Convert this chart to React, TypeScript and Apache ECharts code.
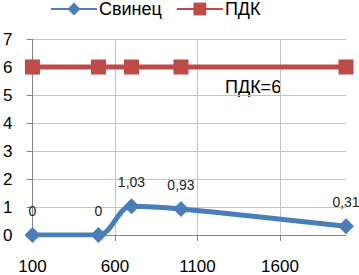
import React, { useEffect, useRef } from "react";
import * as echarts from "echarts";

const xValues = [100, 500, 700, 1000, 2000];
const leadValues = [0, 0, 1.03, 0.93, 0.31];
const pdkValues = [6, 6, 6, 6, 6];
const xTickValues = [100, 600, 1100, 1600];
const seriesNames = ["Свинец", "ПДК"];
const annotation = "ПДК=6";

const FONT = "'Liberation Sans', Arial, sans-serif";

export default function App() {
  const ref = useRef<HTMLDivElement>(null);
  useEffect(() => {
    document.body.style.margin = "0";
    const chart = echarts.init(ref.current!, undefined, { renderer: "svg" });
    chart.setOption({
      animation: false,
      textStyle: { fontFamily: FONT },
      legend: {
        left: 50,
        top: 0,
        padding: 0,
        itemWidth: 46,
        itemHeight: 16,
        itemGap: 14,
        textStyle: { fontSize: 18, color: "#000", fontFamily: FONT, padding: [0, 0, 0, -3] },
        data: seriesNames,
      },
      grid: { left: 29, right: 13, top: 39, bottom: 33 },
      xAxis: {
        type: "value",
        min: 100,
        max: 2000,
        interval: 100,
        axisLine: { show: true, onZero: false, lineStyle: { color: "#868686", width: 1 } },
        axisTick: { show: true, length: 6, customValues: xTickValues, lineStyle: { color: "#868686" } },
        axisLabel: {
          customValues: xTickValues,
          fontSize: 17,
          color: "#000",
          margin: 23,
          fontFamily: FONT,
          formatter: (v: number) => String(v),
        },
        splitLine: { show: true, lineStyle: { color: "#c4c4c4", width: 1 } },
      },
      yAxis: {
        type: "value",
        min: 0,
        max: 7,
        interval: 1,
        axisLine: { show: true, lineStyle: { color: "#868686", width: 1 } },
        axisTick: { show: true, length: 6, lineStyle: { color: "#868686" } },
        axisLabel: { fontSize: 17, color: "#000", margin: 20, fontFamily: FONT },
        splitLine: { show: true, lineStyle: { color: "#c4c4c4", width: 1 } },
      },
      graphic: [
        {
          type: "text",
          left: 225,
          top: 78,
          style: { text: annotation, fontSize: 18, fill: "#000", fontFamily: FONT },
        },
      ],
      series: [
        {
          name: seriesNames[0],
          type: "line",
          data: xValues.map((x, i) => [x, leadValues[i]]),
          smooth: 0.35,
          symbol: "diamond",
          symbolSize: 16,
          itemStyle: { color: "#4a7ebb" },
          lineStyle: { color: "#4a7ebb", width: 5 },
          label: {
            show: true,
            position: "top",
            distance: 9,
            fontSize: 14,
            color: "#222",
            fontFamily: FONT,
            formatter: (p: any) => String(p.value[1]).replace(".", ","),
          },
          z: 3,
        },
        {
          name: seriesNames[1],
          type: "line",
          data: xValues.map((x, i) => [x, pdkValues[i]]),
          symbol: "rect",
          symbolSize: 15,
          itemStyle: { color: "#be4b48" },
          lineStyle: { color: "#be4b48", width: 5 },
          z: 2,
        },
      ],
    });
    return () => chart.dispose();
  }, []);
  return <div ref={ref} style={{ width: 359, height: 275 }} />;
}
